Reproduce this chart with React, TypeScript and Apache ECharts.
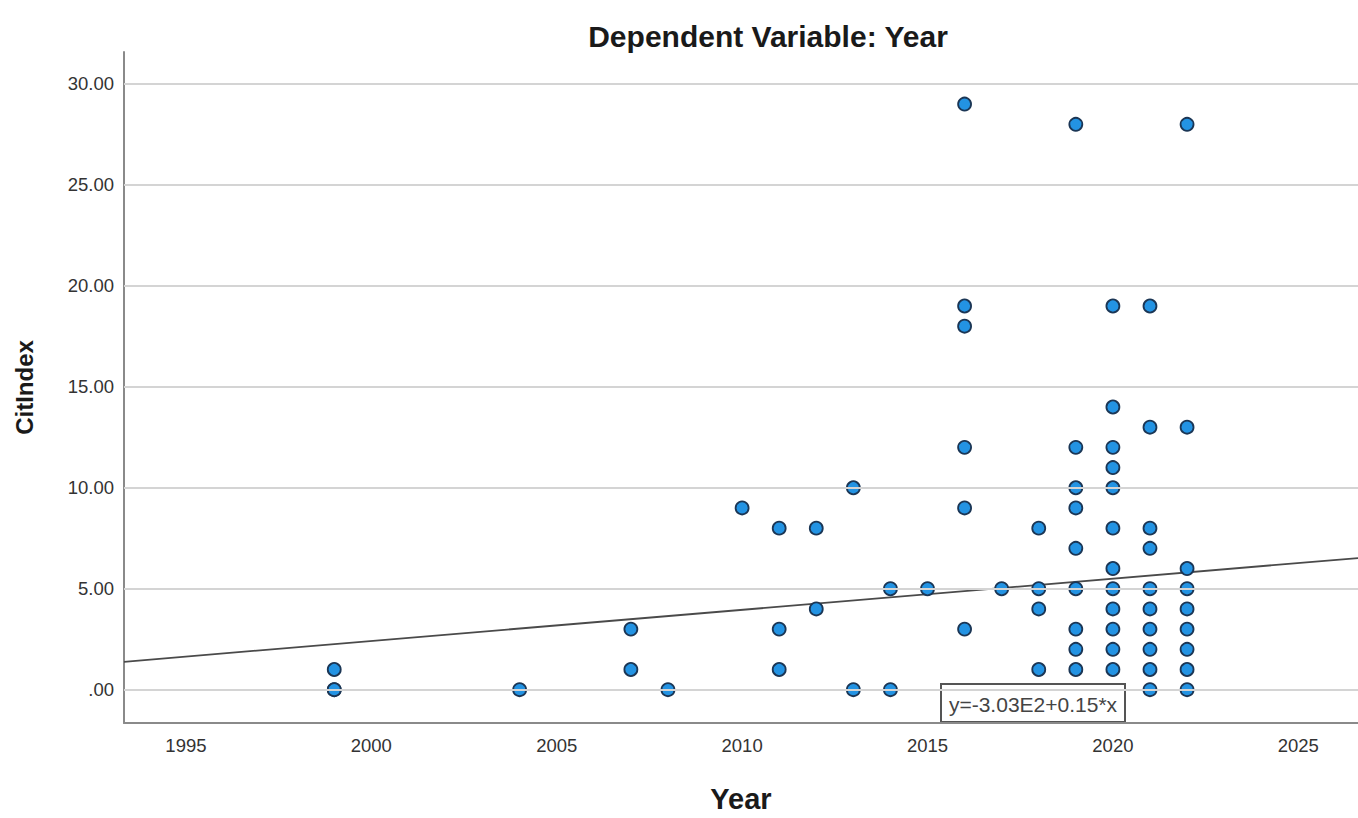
import React, { useEffect, useRef } from "react";
import * as echarts from "echarts";

const titleText = "Dependent Variable: Year";
const xAxisName = "Year";
const yAxisName = "CitIndex";
const equationText = "y=-3.03E2+0.15*x";

const xTickValues = [1995, 2000, 2005, 2010, 2015, 2020, 2025];
const yTickValues = [0, 5, 10, 15, 20, 25, 30];

// observations grouped by year
const groupYears = [1999, 2004, 2007, 2008, 2010, 2011, 2012, 2013, 2014, 2015, 2016, 2017, 2018, 2019, 2020, 2021, 2022];
const groupValues = [
  [1, 0, 0],
  [0],
  [3, 1],
  [0],
  [9],
  [8, 3, 1],
  [8, 4],
  [10, 0],
  [5, 0],
  [5],
  [29, 19, 18, 12, 9, 3],
  [5],
  [8, 5, 4, 1],
  [28, 12, 10, 9, 7, 5, 3, 2, 1],
  [19, 14, 12, 11, 10, 8, 6, 5, 4, 3, 2, 1],
  [19, 13, 8, 7, 5, 4, 3, 2, 1, 0],
  [28, 13, 6, 5, 4, 3, 2, 1, 0],
];

// fit line endpoints
const fitYears = [1993.33, 2026.61];
const fitValues = [1.38, 6.52];

const xMin = 1993.33;
const xMax = 2026.61;
const yMin = -1.65;
const yMax = 31.58;

const FONT = "Liberation Sans, Arial, sans-serif";

export default function App() {
  const ref = useRef<HTMLDivElement>(null);
  useEffect(() => {
    if (!ref.current) return;
    const chart = echarts.init(ref.current, undefined, { renderer: "svg", width: 1358, height: 818 });
    const points: number[][] = [];
    groupYears.forEach((yr, i) => {
      groupValues[i].forEach((v) => points.push([yr, v]));
    });
    const fitData = fitYears.map((x, i) => [x, fitValues[i]]);
    const fmtY = (v: number) => (v === 0 ? ".00" : v.toFixed(2));
    chart.setOption({
      animation: false,
      backgroundColor: "#ffffff",
      title: {
        text: titleText,
        left: 763,
        top: 16,
        textAlign: "center",
        textStyle: { fontFamily: FONT, fontSize: 30, fontWeight: "bold", color: "#1a1a1a" },
      },
      grid: { left: 124, right: 0, top: 52, bottom: 89, containLabel: false },
      xAxis: {
        type: "value",
        min: xMin,
        max: xMax,
        name: xAxisName,
        nameLocation: "middle",
        nameGap: 61,
        nameTextStyle: { fontFamily: FONT, fontSize: 29, fontWeight: "bold", color: "#1a1a1a" },
        axisLine: { show: true, onZero: false, lineStyle: { color: "#8a8a8a", width: 2 } },
        axisTick: { show: false },
        splitLine: { show: false },
        axisLabel: {
          customValues: xTickValues,
          margin: 13,
          fontFamily: FONT,
          fontSize: 18.5,
          color: "#333",
          showMinLabel: true,
          showMaxLabel: true,
          formatter: (v: number) => String(Math.round(v)),
        },
      },
      yAxis: {
        type: "value",
        min: yMin,
        max: yMax,
        name: yAxisName,
        nameLocation: "middle",
        nameGap: 88,
        nameRotate: 90,
        nameTextStyle: { fontFamily: FONT, fontSize: 24, fontWeight: "bold", color: "#1a1a1a" },
        axisLine: { show: true, onZero: false, lineStyle: { color: "#8a8a8a", width: 2 } },
        axisTick: { show: false },
        splitLine: { show: false },
        axisLabel: {
          customValues: yTickValues,
          margin: 10,
          fontFamily: FONT,
          fontSize: 18.5,
          color: "#333",
          formatter: (v: number) => fmtY(v),
        },
      },
      series: [
        {
          type: "line",
          data: [],
          silent: true,
          markLine: {
            silent: true,
            symbol: ["none", "none"],
            label: { show: false },
            lineStyle: { color: "#d4d4d4", width: 2, type: "solid" },
            data: yTickValues.map((v) => ({ yAxis: v })),
          },
        },
        {
          type: "line",
          data: fitData,
          showSymbol: false,
          symbol: "none",
          lineStyle: { color: "#4a4a4a", width: 1.8 },
          z: 3,
        },
        {
          type: "scatter",
          data: points,
          symbol: "circle",
          symbolSize: 13,
          itemStyle: { color: "#2393e3", borderColor: "#1b3655", borderWidth: 1.8, opacity: 1 },
          z: 4,
        },
      ],
      graphic: [
        {
          type: "group",
          left: 940,
          top: 683,
          z: 100,
          children: [
            { type: "rect", shape: { x: 0, y: 0, width: 184, height: 38 }, style: { fill: "#ffffff", stroke: "#555", lineWidth: 2 } },
            {
              type: "text",
              x: 92,
              y: 20,
              style: {
                text: equationText,
                fontFamily: FONT,
                fontSize: 21,
                fill: "#444",
                align: "center",
                verticalAlign: "middle",
              },
            },
          ],
        },
      ],
    });
    return () => chart.dispose();
  }, []);
  return <div ref={ref} style={{ position: "fixed", left: 0, top: 0, width: 1358, height: 818 }} />;
}
